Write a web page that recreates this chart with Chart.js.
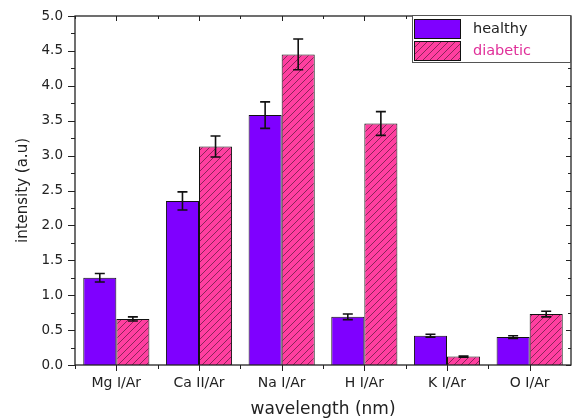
<!DOCTYPE html>
<html lang="en">
<head>
    <meta charset="UTF-8">
    <title>Intensity by emission line</title>
    <script src="https://cdn.jsdelivr.net/npm/chart.js"></script>
    <style>
        body { margin: 0; background: white; }
        #wrap { width: 573px; height: 419px; }
    </style>
</head>
<body>
    <div id="wrap"><canvas id="chart" width="573" height="419"></canvas></div>

    <script>
        // data
        const lines = ["Mg I/Ar", "Ca II/Ar", "Na I/Ar", "H I/Ar", "K I/Ar", "O I/Ar"];
        const healthy = [1.25, 2.35, 3.58, 0.69, 0.42, 0.40];
        const healthyErr = [0.06, 0.13, 0.19, 0.04, 0.02, 0.02];
        const diabetic = [0.66, 3.13, 4.45, 3.46, 0.12, 0.73];
        const diabeticErr = [0.03, 0.15, 0.22, 0.17, 0.01, 0.04];
        const yTicks = [0, 0.5, 1, 1.5, 2, 2.5, 3, 3.5, 4, 4.5, 5];

        const purple = "#7f00ff";
        const pink = "#ff3fa0";
        const ink = "#222";
        const face = "'DejaVu Sans', sans-serif";

        function hatch() {
            let c = document.createElement("canvas");
            c.width = 7; c.height = 7;
            let g = c.getContext("2d");
            g.fillStyle = pink;
            g.fillRect(0, 0, 7, 7);
            g.strokeStyle = "rgba(60,20,40,0.75)";
            g.lineWidth = 0.8;
            g.beginPath();
            g.moveTo(0, 7); g.lineTo(7, 0);
            g.moveTo(-1, 1); g.lineTo(1, -1);
            g.moveTo(6, 8); g.lineTo(8, 6);
            g.stroke();
            return g.createPattern(c, "repeat");
        }
        const pinkHatch = hatch();

        // error bars, frame, minor ticks, legend
        const extras = {
            id: "extras",
            afterDatasetsDraw(chart) {
                let ctx = chart.ctx;
                let y = chart.scales.y, x = chart.scales.x;
                let a = chart.chartArea;
                let errs = [healthyErr, diabeticErr];
                ctx.save();
                ctx.strokeStyle = "#111";
                ctx.lineWidth = 1.6;
                chart.data.datasets.forEach((ds, d) => {
                    chart.getDatasetMeta(d).data.forEach((bar, i) => {
                        let v = ds.data[i], e = errs[d][i];
                        let top = y.getPixelForValue(v + e), bot = y.getPixelForValue(v - e);
                        ctx.beginPath();
                        ctx.moveTo(bar.x, top); ctx.lineTo(bar.x, bot);
                        ctx.moveTo(bar.x - 5, top); ctx.lineTo(bar.x + 5, top);
                        ctx.moveTo(bar.x - 5, bot); ctx.lineTo(bar.x + 5, bot);
                        ctx.stroke();
                    });
                });

                // frame
                ctx.strokeStyle = ink;
                ctx.lineWidth = 1.3;
                ctx.strokeRect(a.left, a.top, a.right - a.left, a.bottom - a.top);

                // y ticks, out on the left, in on the right
                ctx.lineWidth = 1;
                for (let v = 0; v <= 5.001; v += 0.25) {
                    let py = Math.round(y.getPixelForValue(v)) + 0.5;
                    let major = Math.abs(v * 2 - Math.round(v * 2)) < 0.01;
                    let len = major ? 7 : 4;
                    ctx.beginPath();
                    ctx.moveTo(a.left - len, py); ctx.lineTo(a.left, py);
                    ctx.moveTo(a.right, py); ctx.lineTo(a.right - (major ? 5 : 3), py);
                    ctx.stroke();
                }
                // x ticks at centres and boundaries
                let step = x.getPixelForValue(1) - x.getPixelForValue(0);
                lines.forEach((_, i) => {
                    let cx = x.getPixelForValue(i);
                    [[cx, 6], [cx - step / 2, 4]].forEach(([px, len]) => {
                        px = Math.round(px) + 0.5;
                        ctx.beginPath();
                        ctx.moveTo(px, a.bottom); ctx.lineTo(px, a.bottom + len);
                        ctx.moveTo(px, a.top); ctx.lineTo(px, a.top + len - 1);
                        ctx.stroke();
                    });
                });

                // legend
                let lx = 412, ly = a.top - 1, lw = 158, lh = 47;
                ctx.fillStyle = "white";
                ctx.fillRect(lx, ly, lw, lh);
                ctx.strokeStyle = "#555";
                ctx.lineWidth = 1;
                ctx.strokeRect(lx + 0.5, ly + 0.5, lw, lh);
                ctx.strokeStyle = "#111";
                ctx.fillStyle = purple;
                ctx.fillRect(414, ly + 4, 46, 19);
                ctx.strokeRect(414.5, ly + 4.5, 46, 19);
                ctx.fillStyle = pinkHatch;
                ctx.fillRect(414, ly + 26, 46, 19);
                ctx.strokeRect(414.5, ly + 26.5, 46, 19);
                ctx.font = "14.5px " + face;
                ctx.textBaseline = "middle";
                ctx.fillStyle = ink;
                ctx.fillText("healthy", 473, ly + 14);
                ctx.fillStyle = "#e0309a";
                ctx.fillText("diabetic", 473, ly + 36);
                ctx.restore();
            }
        };

        new Chart(document.getElementById("chart"), {
            type: "bar",
            data: {
                labels: lines,
                datasets: [
                    { label: "healthy", data: healthy, backgroundColor: purple, borderColor: "#111", borderWidth: 1 },
                    { label: "diabetic", data: diabetic, backgroundColor: pinkHatch, borderColor: "#111", borderWidth: 1 }
                ]
            },
            options: {
                responsive: false,
                animation: false,
                layout: { padding: { top: 16, right: 2, left: 0, bottom: 0 } },
                datasets: { bar: { categoryPercentage: 0.8, barPercentage: 1.0 } },
                plugins: { legend: { display: false }, tooltip: { enabled: false } },
                scales: {
                    x: {
                        grid: { display: false, drawTicks: false },
                        border: { display: false },
                        ticks: { padding: 10, color: ink, font: { family: face, size: 14 } },
                        title: { display: true, text: "wavelength (nm)", color: ink, padding: { top: 0, bottom: 1 },
                                 font: { family: face, size: 17, lineHeight: 1 } },
                        afterFit(s) { s.height = 54; }
                    },
                    y: {
                        min: 0, max: 5,
                        afterBuildTicks(s) { s.ticks = yTicks.map(v => ({ value: v })); },
                        grid: { display: false, drawTicks: false },
                        border: { display: false },
                        ticks: { padding: 12, color: ink, callback: v => v.toFixed(1),
                                 font: { family: face, size: 13.5 } },
                        title: { display: true, text: "intensity (a.u)", color: ink, padding: { top: 14, bottom: 0 },
                                 font: { family: face, size: 15 } },
                        afterFit(s) { s.width = 75; s.paddingTop = 0; s.paddingBottom = 0; }
                    }
                }
            },
            plugins: [extras]
        });
    </script>
</body>
</html>
